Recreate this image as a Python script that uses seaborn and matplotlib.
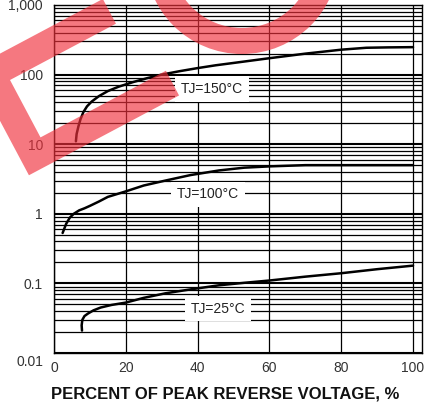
import numpy as np
import pandas as pd
import matplotlib
matplotlib.use('Agg')
import matplotlib.pyplot as plt
import matplotlib.transforms as mtransforms
import seaborn as sns
from matplotlib.patches import Polygon, Wedge
from matplotlib.ticker import LogLocator, NullFormatter

# %% 数据
v_150 = [6.1, 6.3, 6.8, 7.4, 8.2, 9.2, 10.5, 12.5, 15, 18, 22, 26, 30, 35, 40, 45, 50, 60, 70, 80, 87, 93, 100]
ir_150 = [11, 14, 18, 23, 29, 35, 41, 49, 58, 67, 78, 89, 100, 112, 124, 136, 147, 172, 200, 228, 243, 246, 248]

v_100 = [2.4, 2.8, 3.4, 4.4, 5.5, 7, 8.5, 10, 12.5, 15, 20, 25, 31, 38, 46, 53, 60, 70, 80, 90, 100]
ir_100 = [0.53, 0.6, 0.72, 0.88, 1.0, 1.12, 1.2, 1.3, 1.5, 1.75, 2.1, 2.55, 3.0, 3.6, 4.2, 4.6, 4.8, 5.0, 5.0, 5.0, 5.0]

v_25 = [7.8, 7.7, 7.9, 8.5, 9.5, 11, 13, 16, 20, 25, 31, 38, 46, 53, 60, 70, 80, 90, 100]
ir_25 = [0.021, 0.025, 0.03, 0.034, 0.037, 0.041, 0.045, 0.049, 0.053, 0.062, 0.072, 0.082, 0.094, 0.102, 0.11, 0.125, 0.14, 0.16, 0.18]

temps = ['TJ=150°C', 'TJ=100°C', 'TJ=25°C']

x_ticks = [0, 20, 40, 60, 80, 100]
y_ticks = [0.01, 0.1, 1, 10, 100, 1000]
y_ticklabels = ['0.01', '0.1', '1', '10', '100', '1,000']
x_label = 'PERCENT OF PEAK REVERSE VOLTAGE, %'

df = pd.concat([
    pd.DataFrame({'v': v, 'ir': ir, 'tj': t})
    for v, ir, t in zip([v_150, v_100, v_25], [ir_150, ir_100, ir_25], temps)
])

# %% 画图
sns.set_style('white')
plt.rcParams['font.family'] = ['Liberation Sans', 'DejaVu Sans']

W, H = 434, 407
fig = plt.figure(figsize=(W / 100, H / 100), dpi=100)
ax = fig.add_axes([54 / W, 1 - 353 / H, (422 - 54) / W, (353 - 5) / H])

sns.lineplot(data=df, x='v', y='ir', hue='tj', palette=['black'] * 3, sort=False,
             estimator=None, legend=False, lw=1.8, ax=ax, zorder=3)

ax.set_yscale('log')
ax.set_xlim(0, 102.5)
ax.set_ylim(0.01, 1000)
ax.set_xticks(x_ticks)
ax.set_yticks(y_ticks, y_ticklabels)
ax.yaxis.set_minor_locator(LogLocator(base=10, subs=np.arange(2, 10)))
ax.yaxis.set_minor_formatter(NullFormatter())

ax.grid(True, which='major', axis='y', color='black', lw=1.5)
ax.grid(True, which='minor', axis='y', color='black', lw=0.9)
ax.grid(True, which='major', axis='x', color='black', lw=0.9)
ax.tick_params(axis='y', which='both', direction='out', length=3, width=0.9,
               color='black', labelsize=10, labelcolor='#333333', pad=5)
ax.tick_params(axis='x', length=0, labelsize=10, labelcolor='#333333', pad=6)
for s in ax.spines.values():
    s.set_color('black')
    s.set_linewidth(1)

# 0.01 的标签在原图里偏下
lbl = ax.get_yticklabels()[0]
lbl.set_transform(lbl.get_transform() + mtransforms.ScaledTranslation(0, -0.08, fig.dpi_scale_trans))

ax.set_xlabel(x_label, fontsize=12, fontweight='bold', color='#111111')
ax.set_ylabel('')
ax.xaxis.set_label_coords(0.465, -0.095)

# 曲线标签（白底遮住网格）
box = dict(boxstyle='square,pad=0.4', fc='white', ec='none')
ax.text(44, 62, temps[0], ha='center', va='center', fontsize=10, color='#222222', bbox=box, zorder=4)
ax.text(42.9, 1.92, temps[1], ha='center', va='center', fontsize=10, color='#222222', bbox=box, zorder=4)
ax.text(45.7, 0.043, temps[2], ha='center', va='center', fontsize=10, color='#222222', bbox=box, zorder=4)

# 红色水印
def to_fig(pts):
    return [(x / W, 1 - y / H) for x, y in pts]

th = np.deg2rad(28)
d1 = np.array([np.cos(th), -np.sin(th)])
d2 = np.array([np.sin(th), np.cos(th)])
t, h = 28, 65
o = np.array([10, 80]) - t * d1 - t * d2
uv = [(0, 0), (t + 120, 0), (t + 120, t), (t, t), (t, t + h),
      (t + 142, t + h), (t + 142, 2 * t + h), (0, 2 * t + h)]
pts = [tuple(o + u * d1 + v * d2) for u, v in uv]
fig.add_artist(Polygon(to_fig(pts), closed=True, fc='#f0303c', ec='none',
                       alpha=0.65, transform=fig.transFigure, zorder=10))
ring = Wedge((242, H + 43), 97, 180, 360, width=26, fc='#f0303c', ec='none',
             alpha=0.65, transform=mtransforms.IdentityTransform(), zorder=10)
fig.add_artist(ring)

plt.savefig('out.png', dpi=100)
